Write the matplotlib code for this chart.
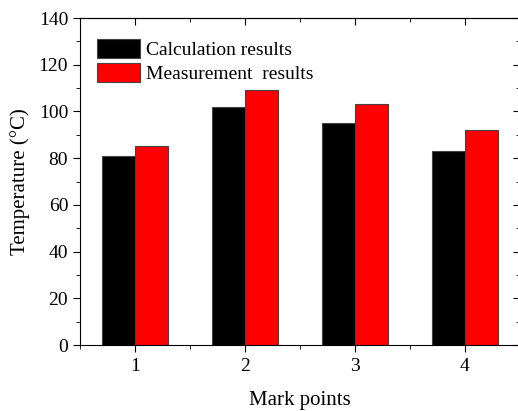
import matplotlib
matplotlib.use('Agg')
import matplotlib.pyplot as plt
import numpy as np
from matplotlib.ticker import MultipleLocator

points = [1, 2, 3, 4]
calc = [81, 102, 95, 83]
meas = [85, 109, 103, 92]

plt.rcParams['font.family'] = ['Liberation Serif', 'DejaVu Serif']

fig = plt.figure(figsize=(5.18, 4.11), dpi=100)
ax = fig.add_axes([80/518, 1-345/411, 440/518, 327/411])

x = np.array(points)
w = 0.3
ax.bar(x - w/2, calc, w, color='black', edgecolor='#444444', linewidth=0.8, label='Calculation results')
ax.bar(x + w/2, meas, w, color='#ff0000', edgecolor='#444444', linewidth=0.8, label='Measurement  results')

ax.set_xlim(0.5, 4.5)
ax.set_ylim(0, 140)
ax.set_xticks(points)
ax.xaxis.set_minor_locator(MultipleLocator(0.5))
ax.yaxis.set_major_locator(MultipleLocator(20))
ax.yaxis.set_minor_locator(MultipleLocator(10))
# left/bottom ticks outward
ax.tick_params(which='both', direction='out', labelsize=14)
ax.tick_params(which='major', length=5)
ax.tick_params(which='minor', length=3)
ax.tick_params(axis='x', which='major', pad=4)

# top/right ticks inward, no labels
top = ax.secondary_xaxis('top')
top.set_xticks(points)
top.xaxis.set_minor_locator(MultipleLocator(0.5))
top.tick_params(which='both', direction='in', labeltop=False)
top.tick_params(which='major', length=5)
top.tick_params(which='minor', length=3)
right = ax.secondary_yaxis('right')
right.yaxis.set_major_locator(MultipleLocator(20))
right.yaxis.set_minor_locator(MultipleLocator(10))
right.tick_params(which='both', direction='in', labelright=False)
right.tick_params(which='major', length=5)
right.tick_params(which='minor', length=3)

ax.set_xlabel('Mark points', fontsize=15, labelpad=12)
ax.set_ylabel('Temperature (°C)', fontsize=15, labelpad=6)

ax.legend(loc='upper left', frameon=False, fontsize=14, handlelength=2.2, handleheight=1.1,
          handletextpad=0.3, labelspacing=0.2, borderaxespad=0.4, bbox_to_anchor=(0.004, 0.982))

fig.savefig('out.png', dpi=100)
